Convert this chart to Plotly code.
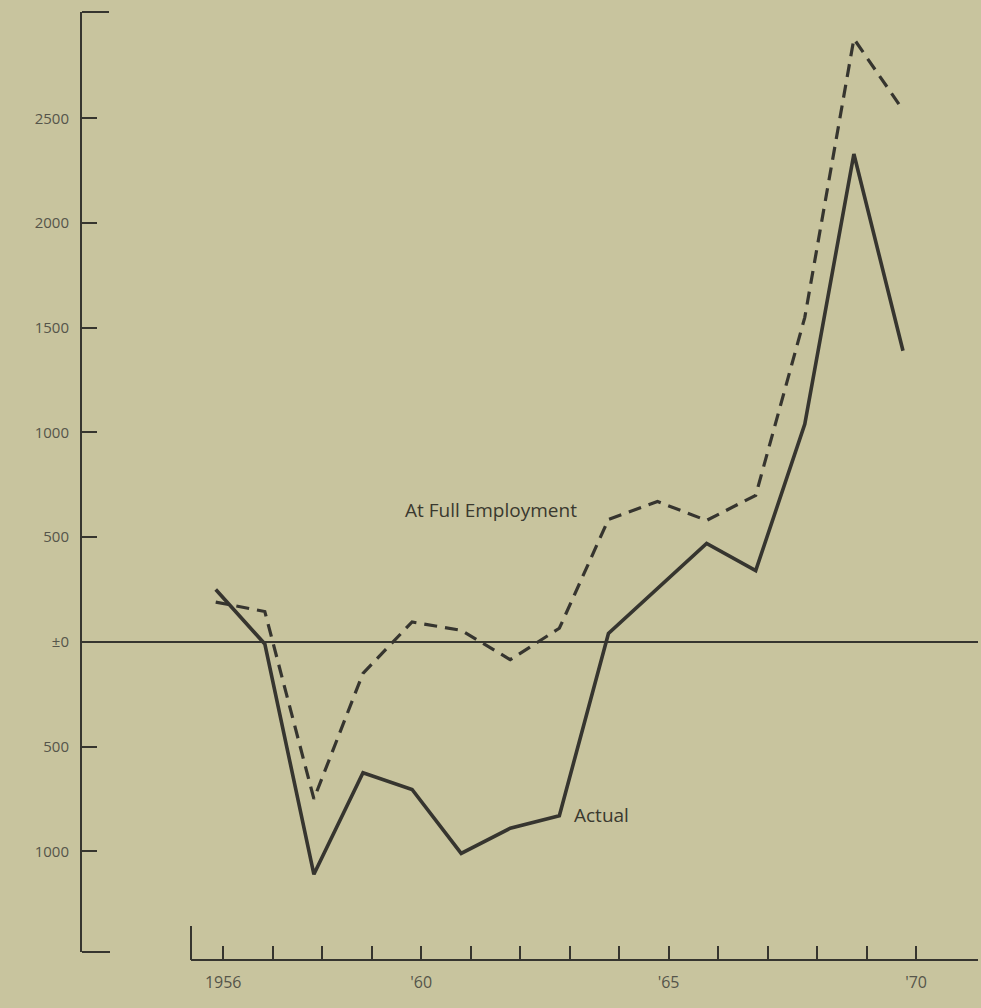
import plotly.graph_objects as go

# Data (millions of dollars)
years = list(range(1956, 1971))
actual = [250, -10, -1110, -625, -705, -1010, -890, -830, 40, 255, 470, 340, 1040, 2330, 1390]
full_employment = [190, 145, -750, -150, 95, 55, -85, 65, 585, 670, 580, 700, 1550, 2880, 2540]

y_tickvals = [2500, 2000, 1500, 1000, 500, 0, -500, -1000]
y_ticktext = ["2500", "2000", "1500", "1000", "500", "±0", "500", "1000"]
x_ticktext = ["1956", "", "", "", "'60", "", "", "", "", "'65", "", "", "", "", "'70"]

W, H = 981, 1008
BG = "#c8c49e"
INK = "#36352f"
LABEL = "#55554a"
FONT = "Open Sans"

fig = go.Figure()

# carrier trace for the displayed year axis
fig.add_trace(go.Scatter(
    x=years, y=[None] * len(years), xaxis="x2", yaxis="y", mode="lines",
    showlegend=False, hoverinfo="skip"))
fig.add_trace(go.Scatter(
    x=years, y=full_employment, mode="lines", name="At Full Employment",
    line=dict(color=INK, width=3.2, dash="13px,8px"), showlegend=False,
    hoverinfo="skip"))
fig.add_trace(go.Scatter(
    x=years, y=actual, mode="lines", name="Actual",
    line=dict(color=INK, width=3.6), showlegend=False, hoverinfo="skip"))

def px_x(p):
    return p / W

def px_y(p):
    return (H - p) / H

fig.update_layout(
    width=W, height=H,
    margin=dict(l=0, r=0, t=0, b=0),
    paper_bgcolor=BG, plot_bgcolor="rgba(0,0,0,0)",
    font=dict(family=FONT, color=LABEL),
    xaxis=dict(
        domain=[px_x(82), px_x(975)],
        range=[1953.276, 1971.467],
        visible=False, showgrid=False, zeroline=False, fixedrange=True),
    xaxis2=dict(
        domain=[px_x(191), px_x(978)],
        range=[1955.349, 1971.252],
        anchor="free", position=px_y(960),
        showline=True, linecolor=INK, linewidth=2,
        ticks="inside", ticklen=13, tickwidth=2, tickcolor=INK,
        tickvals=years, ticktext=x_ticktext, tickangle=0,
        tickfont=dict(size=16, color=LABEL, family=FONT),
        ticklabelstandoff=8,
        showgrid=False, zeroline=False, fixedrange=True),
    yaxis=dict(
        domain=[px_y(952), px_y(12)],
        range=[-1481, 3008],
        anchor="x",
        showline=True, linecolor=INK, linewidth=2,
        ticks="inside", ticklen=15, tickwidth=2, tickcolor=INK,
        tickvals=y_tickvals, ticktext=y_ticktext,
        tickfont=dict(size=15, color=LABEL, family=FONT),
        ticklabelstandoff=8,
        showgrid=False,
        zeroline=True, zerolinecolor=INK, zerolinewidth=1.5,
        fixedrange=True),
    shapes=[
        # top cap of the value axis
        dict(type="line", xref="paper", yref="paper",
             x0=px_x(82), x1=px_x(109), y0=px_y(12), y1=px_y(12),
             line=dict(color=INK, width=2)),
        # bottom foot of the value axis
        dict(type="line", xref="paper", yref="paper",
             x0=px_x(82), x1=px_x(110), y0=px_y(952), y1=px_y(952),
             line=dict(color=INK, width=2)),
        # tall start tick of the year axis
        dict(type="line", xref="paper", yref="paper",
             x0=px_x(191), x1=px_x(191), y0=px_y(960), y1=px_y(926),
             line=dict(color=INK, width=2)),
    ],
    annotations=[
        dict(text="At Full Employment", x=1961.61, y=630, xref="x", yref="y",
             showarrow=False, xanchor="center", yanchor="middle",
             font=dict(size=19, color="#3a392f", family=FONT)),
        dict(text="Actual", x=1963.85, y=-827, xref="x", yref="y",
             showarrow=False, xanchor="center", yanchor="middle",
             font=dict(size=19, color="#3a392f", family=FONT)),
    ],
)

fig.write_html("out.html",
               config={"displayModeBar": False, "staticPlot": True},
               post_script="document.body.style.margin='0px';document.body.style.overflow='hidden';")
